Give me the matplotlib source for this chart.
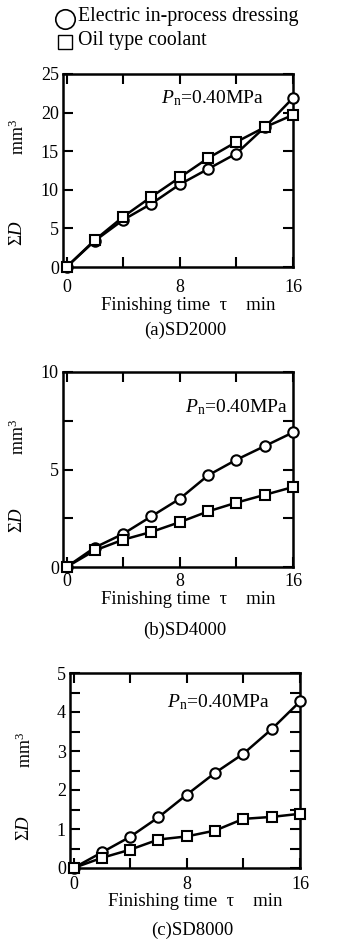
import matplotlib
matplotlib.use("Agg")
import matplotlib.pyplot as plt
from matplotlib.lines import Line2D
from matplotlib.ticker import MultipleLocator

plt.rcParams['font.family'] = ['Liberation Serif', 'DejaVu Serif']
plt.rcParams['mathtext.fontset'] = 'custom'
plt.rcParams['mathtext.rm'] = 'Liberation Serif'
plt.rcParams['mathtext.it'] = 'Liberation Serif:italic'

time_min = [0, 2, 4, 6, 8, 10, 12, 14, 16]
legend_labels = ["Electric in-process dressing", "Oil type coolant"]
panel_titles = ["(a)SD2000", "(b)SD4000", "(c)SD8000"]
elid_sd2000 = [0, 3.4, 6.1, 8.2, 10.7, 12.7, 14.7, 18.1, 21.9]
oil_sd2000 = [0, 3.5, 6.5, 9.1, 11.6, 14.1, 16.2, 18.1, 19.7]
elid_sd4000 = [0, 1.0, 1.7, 2.6, 3.5, 4.7, 5.5, 6.2, 6.9]
oil_sd4000 = [0, 0.85, 1.4, 1.8, 2.3, 2.85, 3.3, 3.7, 4.1]
elid_sd8000 = [0, 0.4, 0.8, 1.3, 1.88, 2.44, 2.93, 3.56, 4.27]
oil_sd8000 = [0, 0.26, 0.47, 0.73, 0.81, 0.96, 1.26, 1.31, 1.39]
ylims = [25, 10, 5]
ymajor = [5, 5, 1]
yminor = [5, 2.5, 0.5]
annot = r"$P_{\rm n}$=0.40MPa"

W, H = 337, 940
fig = plt.figure(figsize=(W / 100, H / 100), dpi=100)

# pixel boxes: left, right, top, bottom
boxes = [(63, 293, 74, 267), (63, 293, 372, 567), (70, 300, 673, 868)]
label_y = [(305, 330), (600, 630), (902, 930)]
xpads = [9, 4.5, 6]
ylab_pos = [(18, 233, 137), (18, 520, 437), (25, 828, 750)]
annot_pos = [(0.426, 0.876), (0.53, 0.82), (0.42, 0.85)]

series = [(elid_sd2000, oil_sd2000), (elid_sd4000, oil_sd4000), (elid_sd8000, oil_sd8000)]

for i in range(3):
    l, r, t, b = boxes[i]
    ax = fig.add_axes([l / W, 1 - b / H, (r - l) / W, (b - t) / H])
    e, o = series[i]
    ax.plot(time_min, e, '-', color='black', lw=1.8, marker='o', ms=7.5,
            mfc='white', mec='black', mew=1.5, clip_on=False, zorder=3)
    ax.plot(time_min, o, '-', color='black', lw=1.8, marker='s', ms=7.0,
            mfc='white', mec='black', mew=1.5, clip_on=False, zorder=4)
    ax.set_xlim(-0.25, 16)
    ax.set_ylim(0, ylims[i])
    ax.xaxis.set_major_locator(MultipleLocator(8))
    ax.xaxis.set_minor_locator(MultipleLocator(4))
    ax.yaxis.set_major_locator(MultipleLocator(ymajor[i]))
    ax.yaxis.set_minor_locator(MultipleLocator(yminor[i]))
    ax.tick_params(which='both', direction='in', top=True, right=True,
                   width=1.5, length=7.5, labelsize=13)
    ax.tick_params(axis='y', pad=3)
    ax.tick_params(axis='x', pad=xpads[i])
    for s in ax.spines.values():
        s.set_linewidth(1.8)
    ax.text(annot_pos[i][0], annot_pos[i][1], annot, transform=ax.transAxes,
            fontsize=14, va='center', ha='left')
    cx = (l + r) / 2 + 10
    fig.text(cx / W, 1 - label_y[i][0] / H, "Finishing time  \u03c4    min",
             ha='center', va='center', fontsize=13.5)
    fig.text((cx - 3) / W, 1 - label_y[i][1] / H, panel_titles[i],
             ha='center', va='center', fontsize=13.5)
    x0, yd, ym = ylab_pos[i]
    fig.text(x0 / W, 1 - yd / H, r"$\Sigma\mathit{D}$", rotation=90,
             ha='center', va='center', fontsize=13.5)
    fig.text(x0 / W, 1 - ym / H, r"mm$^3$", rotation=90,
             ha='center', va='center', fontsize=13)

# legend
fig.add_artist(Line2D([65 / W], [1 - 19 / H], transform=fig.transFigure,
                      marker='o', ms=14, mfc='white', mec='black', mew=1.2, ls='none'))
fig.add_artist(Line2D([64.5 / W], [1 - 42 / H], transform=fig.transFigure,
                      marker='s', ms=10.5, mfc='white', mec='black', mew=1.0, ls='none'))
fig.text(78 / W, 1 - 17 / H, legend_labels[0], ha='left', va='center', fontsize=14.3)
fig.text(78 / W, 1 - 40 / H, legend_labels[1], ha='left', va='center', fontsize=14.3)

fig.savefig("out.png", dpi=100)
